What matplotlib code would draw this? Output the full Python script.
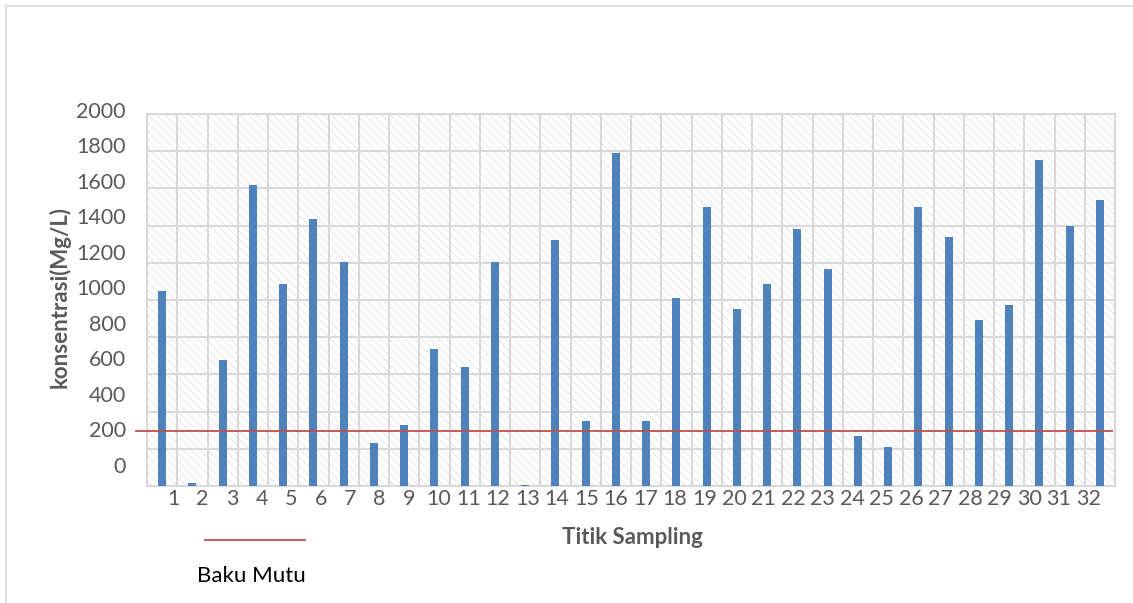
import matplotlib.pyplot as plt
from matplotlib.lines import Line2D
from matplotlib.patches import Rectangle
import numpy as np

plt.rcParams['font.family'] = ['Lato', 'DejaVu Sans']
plt.rcParams['hatch.linewidth'] = 0.9

# Sampling points and measured concentrations (mg/L)
titik = [str(i) for i in range(1, 33)]
konsentrasi = [1050, 16, 680, 1616, 1088, 1438, 1205, 232, 327, 738, 639,
               1205, 5, 1323, 347, 1790, 347, 1009, 1499, 952, 1088, 1382,
               1167, 271, 210, 1499, 1341, 892, 973, 1752, 1400, 1539]
baku_mutu = 200
y_values = list(range(0, 2001, 200))

# The value labels on the left run on a slightly compressed scale
# relative to the gridlines.
LABEL_OFFSET = 104
LABEL_FACTOR = 0.954


def label_pos(v):
    return LABEL_OFFSET + LABEL_FACTOR * v


W, H = 1133, 603
fig = plt.figure(figsize=(W / 100, H / 100), dpi=100)
ax = fig.add_axes([147 / W, 1 - 486 / H, 968 / W, 372 / H])

grid_c = '#d9d9d9'
text_c = '#595959'
bar_c = '#4f81bd'
red_c = '#c0504d'

# patterned plot area
ax.add_patch(Rectangle((0, 0), 1, 1, transform=ax.transAxes,
                       facecolor='white', edgecolor='#ececec', lw=0,
                       hatch='\\\\\\\\', zorder=0.1))

x = np.arange(1, len(titik) + 1)
ax.bar(x, konsentrasi, width=0.27, color=bar_c, zorder=3)

ax.set_xlim(0.5, len(titik) + 0.5)
ax.set_ylim(0, 2000)

ax.set_xticks(np.arange(0.5, len(titik) + 1, 1), minor=True)
ax.set_yticks(y_values, minor=True)
ax.grid(which='minor', color=grid_c, lw=1.5, zorder=1)
ax.set_axisbelow(True)

xlab_pos = [1.36 + 0.976 * i for i in range(len(titik))]
ax.set_xticks(xlab_pos, titik)
ax.set_yticks([])
ax.tick_params(which='both', length=0)
ax.tick_params(axis='x', pad=2, labelsize=15.5, labelcolor=text_c)

for v in y_values:
    ax.text(-0.0217, label_pos(v), str(v), transform=ax.get_yaxis_transform(),
            ha='right', va='center', fontsize=15.5, color=text_c, clip_on=False)

for s in ax.spines.values():
    s.set_color(grid_c)
    s.set_linewidth(1.5)

# quality standard line
ax.plot([0.136, 32.4], [label_pos(baku_mutu)] * 2, color=red_c, lw=1.3,
        clip_on=False, zorder=4)

# legend
fig.add_artist(Line2D([205 / W, 305 / W], [1 - 540 / H] * 2, color=red_c, lw=1.3))
fig.text(251 / W, 1 - 576 / H, 'Baku Mutu', ha='center', va='center',
         fontsize=16, color='black')

fig.text(632 / W, 1 - 537 / H, 'Titik Sampling', ha='center', va='center',
         fontsize=16, fontweight='bold', color=text_c)
fig.text(60 / W, 1 - 297 / H, 'konsentrasi(Mg/L)', ha='center', va='center',
         rotation=90, fontsize=16, fontweight='bold', color=text_c)

# chart frame
fig.add_artist(Line2D([6 / W, 1], [1 - 6 / H] * 2, color=grid_c, lw=1.2))
fig.add_artist(Line2D([6 / W] * 2, [0, 1 - 6 / H], color=grid_c, lw=1.2))

fig.savefig('out.png', dpi=100)
